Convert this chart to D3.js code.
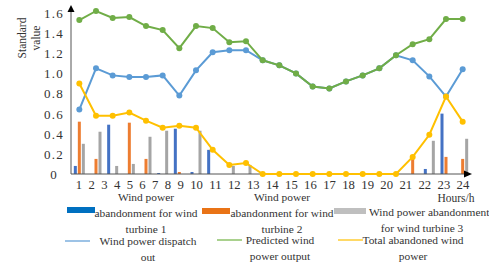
<!DOCTYPE html>
<html>
<head>
<meta charset="utf-8">
<script src="https://cdn.jsdelivr.net/npm/d3@7"></script>
<style>
  body { margin: 0; background: #fff; }
  text { font-family: "Liberation Serif", "Times New Roman", serif; fill: #333; }
</style>
</head>
<body>
<svg id="chart" width="489" height="267"></svg>
<script>
// hours on the x axis
let hours = ["1","2","3","4","5","6","7","8","9","10","11","12","13","14","15","16","17","18","19","20","21","22","23","24"];
let yTicks = [0, 0.2, 0.4, 0.6, 0.8, 1.0, 1.2, 1.4, 1.6];
let yTickLabels = ["0","0.2","0.4","0.6","0.8","1.0","1.2","1.4","1.6"];

// abandoned wind power per turbine (bars)
let turbine1 = [0.08,0,0.49,0,0,0.01,0.45,0.02,0.24,0,0,0,0,0,0,0,0,0,0,0,0,0.05,0.60,0];
let turbine2 = [0.52,0.15,0,0.51,0.15,0,0.02,0,0,0,0,0,0,0,0,0,0,0,0,0,0.15,0,0.17,0.15];
let turbine3 = [0.30,0.42,0.08,0.10,0.37,0.43,0,0.43,0,0.08,0.09,0,0,0,0,0,0,0,0,0,0,0.33,0,0.35];

// lines
let dispatched = [0.64,1.05,0.98,0.965,0.965,0.98,0.78,1.03,1.21,1.23,1.23,1.13,1.08,1.00,0.87,0.85,0.92,0.98,1.05,1.18,1.13,0.97,0.77,1.04];
let predicted = [1.53,1.62,1.55,1.56,1.47,1.43,1.25,1.47,1.45,1.31,1.32,1.13,1.08,1.00,0.87,0.85,0.92,0.98,1.05,1.18,1.29,1.34,1.54,1.54];
let totalAbandoned = [0.90,0.58,0.58,0.61,0.53,0.46,0.48,0.46,0.24,0.09,0.11,0,0,0,0,0,0,0,0,0,0.17,0.39,0.77,0.52];

let svg = d3.select("#chart");

let x = d3.scaleBand().domain(hours).range([71, 471]);
let y = d3.scaleLinear().domain([0, 1.6]).range([174, 13]);
let sub = d3.scaleBand().domain([0, 1, 2]).range([-6, 6]);

let barColors = ["#4472C4", "#ED7D31", "#A5A5A5"];
let barSeries = [turbine1, turbine2, turbine3];

// bars
barSeries.forEach(function(series, s){
  svg.append("g")
    .selectAll("rect")
    .data(series)
    .enter()
    .append("rect")
    .attr("x", function(d, i){ return x(hours[i]) + x.bandwidth() / 2 + sub(s) + 0.5; })
    .attr("y", function(d){ return y(d); })
    .attr("width", sub.bandwidth() - 1)
    .attr("height", function(d){ return y(0) - y(d); })
    .attr("fill", barColors[s]);
});

// axes with arrows
let axisG = svg.append("g");
axisG.append("line")
  .attr("x1", 71).attr("x2", 71)
  .attr("y1", y(0)).attr("y2", 9)
  .attr("stroke", "#555").attr("stroke-width", 1);
axisG.append("path")
  .attr("d", "M71,5 L67.5,12 L74.5,12 Z")
  .attr("fill", "#000");
axisG.append("line")
  .attr("x1", 71).attr("x2", 466)
  .attr("y1", y(0)).attr("y2", y(0))
  .attr("stroke", "#555").attr("stroke-width", 1);
axisG.append("path")
  .attr("d", "M472," + y(0) + " L464," + (y(0) - 3.5) + " L464," + (y(0) + 3.5) + " Z")
  .attr("fill", "#000");

// y tick labels
svg.append("g")
  .selectAll("text")
  .data(yTicks)
  .enter()
  .append("text")
  .attr("x", 54)
  .attr("y", function(d){ return y(d) + 2; })
  .attr("text-anchor", "middle")
  .attr("dominant-baseline", "middle")
  .attr("font-size", "13px")
  .attr("letter-spacing", "1.2px")
  .text(function(d, i){ return yTickLabels[i]; });

// x labels, written as one run of text like the original
svg.append("text")
  .attr("x", 75.8)
  .attr("y", 189)
  .attr("font-size", "12.7px")
  .attr("word-spacing", "3.2px")
  .text(hours.join(" "));

svg.append("text")
  .attr("x", 456).attr("y", 202)
  .attr("text-anchor", "middle")
  .attr("font-size", "11.5px")
  .text("Hours/h");

// y title
let yTitle = svg.append("text")
  .attr("transform", "translate(26,38) rotate(-90)")
  .attr("text-anchor", "middle")
  .attr("font-size", "11.5px");
yTitle.append("tspan").attr("x", 0).attr("dy", 0).text("Standard");
yTitle.append("tspan").attr("x", 0).attr("dy", "1.2em").text("value");

// lines
let lineSeries = [
  {values: dispatched, color: "#5B9BD5"},
  {values: predicted, color: "#70AD47"},
  {values: totalAbandoned, color: "#FFC000"}
];
let line = d3.line()
  .x(function(d, i){ return x(hours[i]) + x.bandwidth() / 2; })
  .y(function(d){ return y(d); });

lineSeries.forEach(function(s){
  svg.append("path")
    .datum(s.values)
    .attr("d", line)
    .attr("fill", "none")
    .attr("stroke", s.color)
    .attr("stroke-width", 2);
  svg.append("g")
    .selectAll("circle")
    .data(s.values)
    .enter()
    .append("circle")
    .attr("cx", function(d, i){ return x(hours[i]) + x.bandwidth() / 2; })
    .attr("cy", function(d){ return y(d); })
    .attr("r", 3)
    .attr("fill", s.color);
});

// legend
let legend = svg.append("g").attr("font-size", "11.4px");

function legendText(lines, cx, y0, anchor){
  let t = legend.append("text")
    .attr("text-anchor", anchor || "middle");
  lines.forEach(function(l, i){
    t.append("tspan").attr("x", cx).attr("y", y0 + i * 16).text(l);
  });
}

legend.append("rect").attr("x", 67).attr("y", 207).attr("width", 28).attr("height", 6).attr("fill", "#0070C0");
legendText(["Wind power", "abandonment for wind", "turbine 1"], 146, 201);

legend.append("rect").attr("x", 202).attr("y", 208).attr("width", 28).attr("height", 6).attr("fill", "#E97316");
legendText(["Wind power", "abandonment for wind", "turbine 2"], 282, 201);

legend.append("rect").attr("x", 334).attr("y", 208).attr("width", 32).attr("height", 6).attr("fill", "#BFBFBF");
legendText(["Wind power abandonment"], 369, 216, "start");
legendText(["for wind turbine 3"], 422, 232);

legend.append("line").attr("x1", 65).attr("x2", 90).attr("y1", 241).attr("y2", 241).attr("stroke", "#9DC3E6").attr("stroke-width", 2);
legendText(["Wind power dispatch", "out"], 148, 245);

legend.append("line").attr("x1", 217).attr("x2", 242).attr("y1", 240).attr("y2", 240).attr("stroke", "#A9D18E").attr("stroke-width", 2);
legendText(["Predicted wind", "power output"], 280, 244);

legend.append("line").attr("x1", 338).attr("x2", 363).attr("y1", 240).attr("y2", 240).attr("stroke", "#FFD966").attr("stroke-width", 2);
legendText(["Total abandoned wind", "power"], 413, 244);
</script>
</body>
</html>
